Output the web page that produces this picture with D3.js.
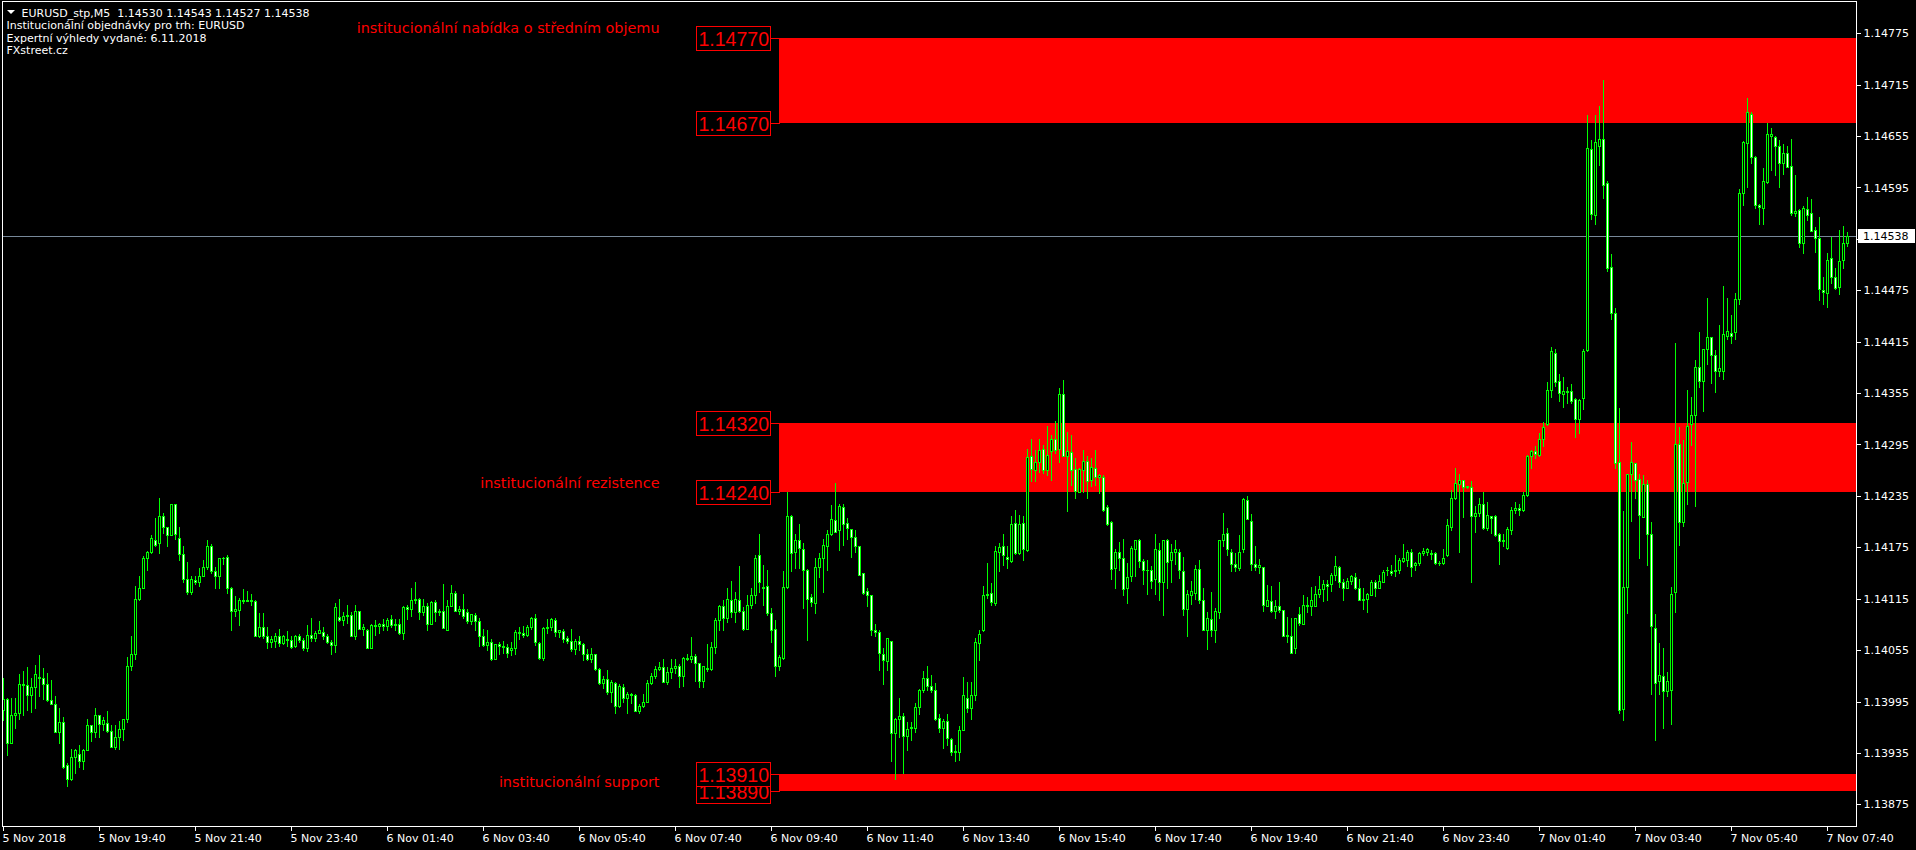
<!DOCTYPE html>
<html><head><meta charset="utf-8">
<script src="https://cdn.jsdelivr.net/npm/d3@7"></script>
<style>html,body{margin:0;padding:0;background:#000;overflow:hidden}</style>
</head><body>
<svg id="chart" width="1916" height="850"></svg>
<script>
// ---- DATA (EURUSD M5, bars from 5 Nov 2018 17:40) ----
const open = [
1.13985,1.13998,1.13947,1.13979,1.13982,1.14016,1.14014,1.14003,1.14012,1.14024,
1.14022,1.14015,1.13997,1.13992,1.13959,1.13971,1.13921,1.13904,1.13930,1.13934,
1.13926,1.13938,1.13968,1.13960,1.13979,1.13969,1.13970,1.13961,1.13942,1.13954,
1.13963,1.13975,1.14037,1.14050,1.14115,1.14128,1.14163,1.14170,1.14184,1.14180,
1.14212,1.14199,1.14189,1.14226,1.14186,1.14167,1.14138,1.14123,1.14137,1.14135,
1.14142,1.14152,1.14176,1.14147,1.14142,1.14162,1.14164,1.14127,1.14101,1.14102,
1.14114,1.14112,1.14114,1.14112,1.14071,1.14082,1.14071,1.14065,1.14066,1.14072,
1.14063,1.14068,1.14067,1.14060,1.14072,1.14067,1.14058,1.14073,1.14069,1.14075,
1.14076,1.14072,1.14065,1.14061,1.14094,1.14090,1.14095,1.14096,1.14072,1.14101,
1.14080,1.14079,1.14057,1.14084,1.14083,1.14085,1.14083,1.14091,1.14084,1.14086,
1.14075,1.14105,1.14103,1.14114,1.14115,1.14100,1.14106,1.14086,1.14111,1.14100,
1.14101,1.14079,1.14106,1.14122,1.14101,1.14103,1.14099,1.14089,1.14096,1.14089,
1.14072,1.14061,1.14064,1.14045,1.14062,1.14060,1.14059,1.14055,1.14058,1.14076,
1.14075,1.14073,1.14082,1.14092,1.14063,1.14046,1.14081,1.14082,1.14090,1.14076,
1.14077,1.14069,1.14066,1.14056,1.14066,1.14062,1.14051,1.14045,1.14051,1.14033,
1.14017,1.14021,1.14006,1.14017,1.13990,1.14012,1.13999,1.14004,1.14003,1.13984,
1.13990,1.13995,1.14017,1.14025,1.14033,1.14035,1.14018,1.14029,1.14034,1.14036,
1.14025,1.14046,1.14045,1.14048,1.14040,1.14019,1.14034,1.14033,1.14059,1.14090,
1.14106,1.14093,1.14113,1.14100,1.14114,1.14101,1.14080,1.14108,1.14119,1.14166,
1.14129,1.14130,1.14098,1.14080,1.14036,1.14046,1.14129,1.14211,1.14170,1.14183,
1.14173,1.14149,1.14117,1.14110,1.14152,1.14162,1.14177,1.14190,1.14207,1.14195,
1.14222,1.14203,1.14196,1.14187,1.14177,1.14145,1.14124,1.14119,1.14078,1.14076,
1.14051,1.14042,1.14066,1.13958,1.13975,1.13978,1.13955,1.13964,1.13964,1.13989,
1.14008,1.14023,1.14013,1.14009,1.13976,1.13964,1.13972,1.13951,1.13936,1.13936,
1.13962,1.13999,1.13987,1.14003,1.14063,1.14078,1.14119,1.14122,1.14110,1.14170,
1.14176,1.14164,1.14159,1.14203,1.14168,1.14203,1.14172,1.14281,1.14265,1.14274,
1.14290,1.14265,1.14287,1.14302,1.14290,1.14354,1.14281,1.14286,1.14266,1.14240,
1.14265,1.14276,1.14253,1.14268,1.14257,1.14257,1.14222,1.14205,1.14151,1.14170,
1.14163,1.14128,1.14142,1.14173,1.14183,1.14159,1.14148,1.14149,1.14138,1.14172,
1.14135,1.14183,1.14160,1.14169,1.14169,1.14147,1.14103,1.14119,1.14122,1.14150,
1.14113,1.14079,1.14091,1.14078,1.14099,1.14183,1.14192,1.14169,1.14156,1.14151,
1.14173,1.14230,1.14206,1.14156,1.14152,1.14152,1.14107,1.14112,1.14101,1.14107,
1.14102,1.14072,1.14072,1.14057,1.14097,1.14086,1.14108,1.14107,1.14107,1.14121,
1.14126,1.14132,1.14132,1.14143,1.14152,1.14134,1.14128,1.14136,1.14140,1.14128,
1.14114,1.14115,1.14119,1.14134,1.14128,1.14135,1.14148,1.14147,1.14147,1.14149,
1.14159,1.14160,1.14169,1.14154,1.14157,1.14168,1.14169,1.14168,1.14168,1.14157,
1.14157,1.14166,1.14199,1.14233,1.14249,1.14254,1.14245,1.14245,1.14211,1.14215,
1.14226,1.14197,1.14211,1.14211,1.14190,1.14182,1.14174,1.14195,1.14219,1.14221,
1.14218,1.14236,1.14281,1.14287,1.14283,1.14302,1.14319,1.14359,1.14402,1.14369,
1.14354,1.14356,1.14358,1.14348,1.14325,1.14349,1.14405,1.14640,1.14563,1.14643,
1.14652,1.14600,1.14502,1.14449,1.14274,1.13986,1.14129,1.14260,1.14273,1.14255,
1.14210,1.14249,1.14190,1.14081,1.14019,1.14025,1.14007,1.14008,1.14123,1.14296,
1.14205,1.14251,1.14319,1.14330,1.14386,1.14369,1.14406,1.14420,1.14399,1.14381,
1.14381,1.14422,1.14425,1.14426,1.14465,1.14589,1.14647,1.14681,1.14631,1.14575,
1.14571,1.14601,1.14655,1.14654,1.14644,1.14624,1.14635,1.14620,1.14565,1.14569,
1.14530,1.14570,1.14565,1.14545,1.14536,1.14475,1.14472,1.14513,1.14490,1.14479,
1.14510,1.14530];
const high = [
1.14022,1.13999,1.13999,1.13999,1.14027,1.14031,1.14035,1.14022,1.14038,1.14049,
1.14034,1.14028,1.14020,1.14001,1.13988,1.13977,1.13923,1.13939,1.13940,1.13944,
1.13939,1.13975,1.13968,1.13987,1.13979,1.13977,1.13984,1.13968,1.13968,1.13972,
1.13975,1.14047,1.14071,1.14130,1.14142,1.14165,1.14171,1.14189,1.14209,1.14233,
1.14215,1.14199,1.14226,1.14226,1.14199,1.14176,1.14158,1.14141,1.14141,1.14151,
1.14160,1.14184,1.14179,1.14152,1.14162,1.14164,1.14166,1.14129,1.14118,1.14116,
1.14126,1.14124,1.14121,1.14113,1.14098,1.14098,1.14082,1.14072,1.14075,1.14080,
1.14073,1.14077,1.14071,1.14073,1.14074,1.14069,1.14084,1.14092,1.14077,1.14089,
1.14082,1.14074,1.14067,1.14110,1.14115,1.14099,1.14108,1.14100,1.14108,1.14101,
1.14085,1.14080,1.14085,1.14090,1.14087,1.14091,1.14092,1.14096,1.14091,1.14091,
1.14107,1.14108,1.14127,1.14134,1.14116,1.14115,1.14110,1.14112,1.14113,1.14103,
1.14132,1.14113,1.14131,1.14124,1.14106,1.14120,1.14103,1.14097,1.14098,1.14093,
1.14080,1.14078,1.14068,1.14062,1.14064,1.14066,1.14062,1.14064,1.14078,1.14082,
1.14083,1.14084,1.14094,1.14097,1.14064,1.14082,1.14091,1.14093,1.14092,1.14079,
1.14080,1.14071,1.14080,1.14068,1.14072,1.14063,1.14056,1.14057,1.14051,1.14034,
1.14025,1.14032,1.14020,1.14018,1.14015,1.14016,1.14006,1.14005,1.14004,1.13992,
1.14004,1.14020,1.14028,1.14037,1.14041,1.14045,1.14035,1.14045,1.14045,1.14039,
1.14047,1.14051,1.14070,1.14050,1.14040,1.14037,1.14062,1.14065,1.14093,1.14108,
1.14114,1.14127,1.14136,1.14123,1.14153,1.14105,1.14119,1.14127,1.14166,1.14190,
1.14154,1.14148,1.14104,1.14090,1.14049,1.14147,1.14240,1.14213,1.14190,1.14202,
1.14180,1.14150,1.14121,1.14163,1.14168,1.14185,1.14195,1.14224,1.14250,1.14226,
1.14226,1.14209,1.14196,1.14195,1.14177,1.14145,1.14127,1.14119,1.14086,1.14078,
1.14057,1.14069,1.14066,1.13976,1.13999,1.13982,1.13971,1.13971,1.13993,1.14010,
1.14031,1.14036,1.14026,1.14017,1.13981,1.13975,1.13981,1.13952,1.13944,1.13967,
1.14024,1.14018,1.14018,1.14069,1.14078,1.14130,1.14157,1.14133,1.14176,1.14180,
1.14190,1.14177,1.14211,1.14218,1.14213,1.14211,1.14290,1.14302,1.14289,1.14301,
1.14294,1.14317,1.14306,1.14322,1.14361,1.14370,1.14310,1.14306,1.14279,1.14267,
1.14288,1.14281,1.14279,1.14288,1.14261,1.14259,1.14224,1.14206,1.14173,1.14181,
1.14185,1.14157,1.14177,1.14183,1.14185,1.14161,1.14160,1.14153,1.14191,1.14180,
1.14184,1.14185,1.14179,1.14184,1.14173,1.14164,1.14125,1.14136,1.14154,1.14160,
1.14127,1.14099,1.14123,1.14104,1.14184,1.14215,1.14197,1.14173,1.14168,1.14189,
1.14233,1.14235,1.14214,1.14176,1.14161,1.14152,1.14131,1.14130,1.14113,1.14135,
1.14102,1.14094,1.14093,1.14093,1.14105,1.14119,1.14117,1.14129,1.14130,1.14141,
1.14137,1.14137,1.14145,1.14165,1.14153,1.14138,1.14139,1.14143,1.14145,1.14138,
1.14127,1.14122,1.14137,1.14137,1.14143,1.14148,1.14152,1.14154,1.14166,1.14163,
1.14179,1.14172,1.14173,1.14158,1.14169,1.14174,1.14174,1.14172,1.14169,1.14159,
1.14173,1.14208,1.14242,1.14268,1.14261,1.14254,1.14247,1.14252,1.14223,1.14232,
1.14240,1.14228,1.14212,1.14213,1.14192,1.14191,1.14199,1.14222,1.14228,1.14226,
1.14240,1.14283,1.14288,1.14293,1.14309,1.14321,1.14368,1.14409,1.14406,1.14377,
1.14374,1.14362,1.14366,1.14349,1.14348,1.14406,1.14680,1.14650,1.14680,1.14690,
1.14720,1.14602,1.14517,1.14454,1.14338,1.14217,1.14260,1.14298,1.14273,1.14260,
1.14259,1.14254,1.14205,1.14097,1.14063,1.14057,1.14030,1.14129,1.14413,1.14315,
1.14300,1.14359,1.14350,1.14394,1.14426,1.14406,1.14466,1.14420,1.14405,1.14434,
1.14480,1.14466,1.14446,1.14472,1.14593,1.14649,1.14700,1.14683,1.14632,1.14576,
1.14618,1.14670,1.14665,1.14655,1.14651,1.14646,1.14643,1.14652,1.14610,1.14570,
1.14573,1.14584,1.14582,1.14549,1.14560,1.14490,1.14518,1.14537,1.14501,1.14545,
1.14550,1.14543];
const low = [
1.13973,1.13933,1.13947,1.13964,1.13975,1.13979,1.13985,1.13983,1.13988,1.14001,
1.13998,1.13996,1.13992,1.13959,1.13947,1.13917,1.13896,1.13903,1.13912,1.13919,
1.13916,1.13938,1.13949,1.13954,1.13954,1.13962,1.13960,1.13942,1.13940,1.13939,
1.13950,1.13971,1.14032,1.14045,1.14114,1.14128,1.14149,1.14168,1.14176,1.14168,
1.14192,1.14176,1.14189,1.14185,1.14160,1.14135,1.14121,1.14121,1.14132,1.14130,
1.14142,1.14150,1.14145,1.14127,1.14127,1.14156,1.14122,1.14078,1.14095,1.14084,
1.14110,1.14112,1.14108,1.14071,1.14070,1.14069,1.14058,1.14059,1.14059,1.14060,
1.14062,1.14060,1.14058,1.14059,1.14064,1.14055,1.14054,1.14066,1.14066,1.14075,
1.14068,1.14063,1.14051,1.14053,1.14089,1.14084,1.14087,1.14071,1.14068,1.14080,
1.14073,1.14057,1.14057,1.14073,1.14075,1.14078,1.14078,1.14082,1.14079,1.14074,
1.14068,1.14091,1.14095,1.14110,1.14091,1.14096,1.14078,1.14085,1.14089,1.14096,
1.14081,1.14078,1.14106,1.14101,1.14097,1.14093,1.14087,1.14086,1.14078,1.14060,
1.14060,1.14055,1.14043,1.14045,1.14050,1.14052,1.14047,1.14049,1.14050,1.14068,
1.14070,1.14071,1.14080,1.14061,1.14045,1.14043,1.14075,1.14078,1.14071,1.14070,
1.14065,1.14063,1.14054,1.14051,1.14055,1.14043,1.14043,1.14041,1.14032,1.14016,
1.14011,1.14004,1.13995,1.13982,1.13989,1.13994,1.13982,1.13993,1.13984,1.13982,
1.13989,1.13994,1.14016,1.14023,1.14032,1.14018,1.14015,1.14023,1.14028,1.14012,
1.14013,1.14043,1.14041,1.14019,1.14012,1.14012,1.14031,1.14032,1.14052,1.14078,
1.14078,1.14088,1.14094,1.14088,1.14100,1.14078,1.14080,1.14104,1.14110,1.14123,
1.14108,1.14096,1.14065,1.14025,1.14032,1.14045,1.14127,1.14147,1.14151,1.14151,
1.14104,1.14067,1.14107,1.14098,1.14140,1.14123,1.14148,1.14189,1.14193,1.14172,
1.14178,1.14185,1.14164,1.14170,1.14143,1.14121,1.14106,1.14073,1.14071,1.14032,
1.14016,1.14032,1.13926,1.13905,1.13954,1.13912,1.13938,1.13950,1.13960,1.13981,
1.14006,1.14008,1.14006,1.13974,1.13960,1.13941,1.13944,1.13932,1.13926,1.13927,
1.13962,1.13983,1.13975,1.13997,1.14043,1.14077,1.14116,1.14108,1.14108,1.14147,
1.14154,1.14151,1.14158,1.14167,1.14167,1.14160,1.14171,1.14252,1.14252,1.14263,
1.14262,1.14259,1.14253,1.14285,1.14275,1.14281,1.14217,1.14248,1.14233,1.14239,
1.14240,1.14233,1.14246,1.14248,1.14238,1.14217,1.14201,1.14138,1.14128,1.14148,
1.14119,1.14110,1.14136,1.14141,1.14152,1.14132,1.14121,1.14127,1.14121,1.14113,
1.14096,1.14128,1.14134,1.14156,1.14139,1.14096,1.14071,1.14109,1.14115,1.14110,
1.14078,1.14056,1.14071,1.14065,1.14093,1.14176,1.14166,1.14147,1.14147,1.14149,
1.14169,1.14208,1.14149,1.14148,1.14145,1.14101,1.14106,1.14100,1.14092,1.14100,
1.14071,1.14065,1.14052,1.14052,1.14084,1.14085,1.14100,1.14096,1.14106,1.14117,
1.14112,1.14113,1.14124,1.14137,1.14129,1.14114,1.14127,1.14132,1.14126,1.14113,
1.14103,1.14100,1.14119,1.14118,1.14127,1.14134,1.14143,1.14143,1.14141,1.14145,
1.14158,1.14153,1.14141,1.14148,1.14154,1.14166,1.14166,1.14161,1.14156,1.14154,
1.14156,1.14165,1.14195,1.14231,1.14169,1.14210,1.14244,1.14134,1.14193,1.14211,
1.14196,1.14195,1.14192,1.14188,1.14156,1.14176,1.14173,1.14191,1.14215,1.14213,
1.14217,1.14235,1.14267,1.14279,1.14282,1.14293,1.14318,1.14350,1.14363,1.14346,
1.14339,1.14344,1.14343,1.14304,1.14308,1.14336,1.14404,1.14558,1.14552,1.14621,
1.14583,1.14497,1.14441,1.14268,1.13982,1.13974,1.14098,1.14206,1.14233,1.14163,
1.14210,1.14154,1.14004,1.13950,1.14004,1.13964,1.14002,1.13969,1.14099,1.14178,
1.14200,1.14225,1.14294,1.14223,1.14362,1.14334,1.14389,1.14367,1.14356,1.14375,
1.14372,1.14418,1.14414,1.14418,1.14459,1.14575,1.14596,1.14624,1.14571,1.14552,
1.14552,1.14600,1.14615,1.14609,1.14595,1.14611,1.14619,1.14563,1.14562,1.14526,
1.14518,1.14557,1.14544,1.14520,1.14464,1.14459,1.14455,1.14484,1.14477,1.14471,
1.14501,1.14527];
const close = [
1.13998,1.13947,1.13979,1.13982,1.14016,1.14014,1.14003,1.14012,1.14027,1.14022,
1.14015,1.13997,1.13992,1.13959,1.13971,1.13918,1.13904,1.13930,1.13938,1.13926,
1.13938,1.13968,1.13960,1.13979,1.13969,1.13973,1.13961,1.13942,1.13954,1.13963,
1.13975,1.14037,1.14050,1.14115,1.14128,1.14163,1.14170,1.14186,1.14178,1.14212,
1.14199,1.14189,1.14226,1.14190,1.14167,1.14138,1.14123,1.14138,1.14135,1.14142,
1.14152,1.14176,1.14147,1.14142,1.14162,1.14162,1.14127,1.14101,1.14103,1.14113,
1.14112,1.14114,1.14112,1.14071,1.14082,1.14071,1.14065,1.14068,1.14072,1.14063,
1.14072,1.14067,1.14059,1.14072,1.14067,1.14058,1.14073,1.14069,1.14075,1.14078,
1.14072,1.14065,1.14061,1.14105,1.14090,1.14095,1.14096,1.14072,1.14101,1.14080,
1.14082,1.14057,1.14084,1.14083,1.14085,1.14083,1.14090,1.14084,1.14086,1.14075,
1.14105,1.14103,1.14114,1.14115,1.14100,1.14106,1.14086,1.14111,1.14100,1.14101,
1.14081,1.14106,1.14122,1.14101,1.14103,1.14095,1.14089,1.14097,1.14089,1.14072,
1.14061,1.14064,1.14045,1.14062,1.14060,1.14059,1.14052,1.14058,1.14076,1.14075,
1.14073,1.14082,1.14092,1.14064,1.14046,1.14081,1.14082,1.14091,1.14076,1.14078,
1.14068,1.14066,1.14056,1.14066,1.14062,1.14051,1.14045,1.14051,1.14033,1.14017,
1.14021,1.14006,1.14018,1.13990,1.14013,1.13999,1.14004,1.14003,1.13984,1.13990,
1.13995,1.14017,1.14025,1.14033,1.14035,1.14018,1.14029,1.14034,1.14036,1.14025,
1.14046,1.14045,1.14048,1.14040,1.14019,1.14036,1.14033,1.14059,1.14090,1.14107,
1.14093,1.14115,1.14100,1.14115,1.14101,1.14080,1.14108,1.14119,1.14163,1.14134,
1.14128,1.14098,1.14078,1.14036,1.14047,1.14129,1.14211,1.14168,1.14183,1.14174,
1.14149,1.14115,1.14111,1.14152,1.14163,1.14178,1.14191,1.14208,1.14193,1.14223,
1.14202,1.14197,1.14187,1.14176,1.14143,1.14122,1.14119,1.14079,1.14076,1.14052,
1.14043,1.14069,1.13958,1.13975,1.13978,1.13955,1.13963,1.13965,1.13989,1.14008,
1.14023,1.14013,1.14008,1.13975,1.13964,1.13972,1.13952,1.13936,1.13937,1.13962,
1.14003,1.13988,1.14003,1.14065,1.14074,1.14119,1.14121,1.14111,1.14171,1.14175,
1.14166,1.14161,1.14202,1.14168,1.14202,1.14173,1.14280,1.14266,1.14274,1.14289,
1.14265,1.14283,1.14302,1.14289,1.14354,1.14281,1.14287,1.14265,1.14241,1.14266,
1.14276,1.14252,1.14269,1.14257,1.14259,1.14218,1.14202,1.14150,1.14170,1.14163,
1.14126,1.14140,1.14174,1.14183,1.14159,1.14148,1.14149,1.14136,1.14173,1.14135,
1.14183,1.14158,1.14170,1.14173,1.14148,1.14103,1.14120,1.14124,1.14150,1.14113,
1.14079,1.14092,1.14078,1.14101,1.14183,1.14191,1.14173,1.14156,1.14152,1.14170,
1.14231,1.14208,1.14156,1.14152,1.14154,1.14108,1.14113,1.14101,1.14107,1.14102,
1.14072,1.14073,1.14052,1.14093,1.14087,1.14108,1.14106,1.14113,1.14121,1.14126,
1.14132,1.14130,1.14143,1.14153,1.14134,1.14127,1.14136,1.14141,1.14128,1.14114,
1.14115,1.14120,1.14134,1.14128,1.14136,1.14146,1.14149,1.14145,1.14149,1.14160,
1.14163,1.14169,1.14152,1.14157,1.14168,1.14171,1.14173,1.14167,1.14157,1.14157,
1.14163,1.14201,1.14233,1.14250,1.14254,1.14245,1.14247,1.14211,1.14215,1.14226,
1.14197,1.14213,1.14209,1.14189,1.14182,1.14184,1.14196,1.14219,1.14221,1.14219,
1.14236,1.14282,1.14287,1.14284,1.14302,1.14316,1.14359,1.14404,1.14368,1.14355,
1.14357,1.14358,1.14346,1.14325,1.14347,1.14404,1.14641,1.14564,1.14648,1.14652,
1.14598,1.14501,1.14448,1.14273,1.13985,1.14129,1.14260,1.14274,1.14253,1.14213,
1.14249,1.14190,1.14083,1.14017,1.14026,1.14007,1.14019,1.14121,1.14296,1.14204,
1.14250,1.14317,1.14329,1.14385,1.14369,1.14406,1.14420,1.14399,1.14381,1.14384,
1.14424,1.14427,1.14422,1.14465,1.14589,1.14648,1.14683,1.14630,1.14575,1.14572,
1.14602,1.14657,1.14658,1.14643,1.14624,1.14635,1.14619,1.14565,1.14568,1.14530,
1.14571,1.14563,1.14544,1.14536,1.14476,1.14473,1.14510,1.14490,1.14478,1.14509,
1.14530,1.14538];

const xTickLabels = ["5 Nov 2018","5 Nov 19:40","5 Nov 21:40","5 Nov 23:40","6 Nov 01:40","6 Nov 03:40",
  "6 Nov 05:40","6 Nov 07:40","6 Nov 09:40","6 Nov 11:40","6 Nov 13:40","6 Nov 15:40","6 Nov 17:40",
  "6 Nov 19:40","6 Nov 21:40","6 Nov 23:40","7 Nov 01:40","7 Nov 03:40","7 Nov 05:40","7 Nov 07:40"];
const barsPerTick = 24;
const yTicks = [1.14775,1.14715,1.14655,1.14595,1.14535,1.14475,1.14415,1.14355,1.14295,1.14235,
  1.14175,1.14115,1.14055,1.13995,1.13935,1.13875];
const zoneHigh = [1.14770, 1.14320, 1.13910];
const zoneLow  = [1.14670, 1.14240, 1.13890];
const zoneNames = ["institucionální nabídka o středním objemu","institucionální rezistence","institucionální support"];
const zoneStartBar = 194;
const bidPrice = 1.14538;
const symbolTitle = "EURUSD_stp,M5";
const infoLines = ["Institucionální objednávky pro trh: EURUSD","Expertní výhledy vydané: 6.11.2018","FXstreet.cz"];

// ---- CHART ----
const W = 1916, H = 850;
const n = Math.min(open.length, high.length, low.length, close.length);
const svg = d3.select('#chart');
svg.append('rect').attr('width', W).attr('height', H).attr('fill', '#000');
const x = d3.scaleLinear().domain([-0.875, 463.125]).range([0, 1856]);
const y = d3.scaleLinear().domain([1.138497, 1.148115]).range([826, 2]);
const fmt = d3.format('.5f');
const R = Math.round;
const GREEN = '#00ff00', RED = '#ff0000';

// zones
const zx0 = x(zoneStartBar), zx1 = x(463.125);
const gz = svg.append('g').attr('shape-rendering', 'crispEdges');
gz.selectAll('rect').data(zoneHigh).join('rect')
  .attr('x', zx0 - 0.5).attr('width', zx1 - zx0 + 0.5)
  .attr('y', d => R(y(d)))
  .attr('height', (d, k) => R(y(zoneLow[k])) - R(y(d)))
  .attr('fill', RED);

// bid line
svg.append('line').attr('x1', 2).attr('x2', 1856)
  .attr('y1', R(y(bidPrice)) + 0.5).attr('y2', R(y(bidPrice)) + 0.5)
  .attr('stroke', '#778899').attr('stroke-width', 1);

// candles
const idx = d3.range(n);
const cx = i => Math.floor(x(i)) + 0.5;
const gc = svg.append('g').attr('shape-rendering', 'crispEdges');
gc.selectAll('rect.wick').data(idx).join('rect').attr('class', 'wick')
  .attr('x', i => cx(i) - 0.5).attr('width', 1)
  .attr('y', i => R(y(high[i])))
  .attr('height', i => R(y(low[i])) - R(y(high[i])) + 1)
  .attr('fill', GREEN);
gc.selectAll('rect.body').data(idx).join('rect').attr('class', 'body')
  .attr('x', i => cx(i) - 1.5).attr('width', 3)
  .attr('y', i => R(y(Math.max(open[i], close[i]))))
  .attr('height', i => R(y(Math.min(open[i], close[i]))) - R(y(Math.max(open[i], close[i]))) + 1)
  .attr('fill', GREEN);
gc.selectAll('rect.fill').data(idx.filter(i => R(y(Math.min(open[i], close[i]))) - R(y(Math.max(open[i], close[i]))) >= 2))
  .join('rect').attr('class', 'fill')
  .attr('x', i => cx(i) - 0.5).attr('width', 1)
  .attr('y', i => R(y(Math.max(open[i], close[i]))) + 1)
  .attr('height', i => R(y(Math.min(open[i], close[i]))) - R(y(Math.max(open[i], close[i]))) - 1)
  .attr('fill', i => close[i] >= open[i] ? '#000' : '#fff');

// zone price labels and zone titles
const gl = svg.append('g');
const labelRight = zx0 - 10;
zoneHigh.forEach((hi, k) => {
  [zoneLow[k], hi].forEach(p => {
    const py = y(p);
    gl.append('line').attr('x1', labelRight).attr('x2', zx0).attr('y1', R(py) + 0.5).attr('y2', R(py) + 0.5)
      .attr('stroke', RED).attr('shape-rendering', 'crispEdges');
    gl.append('rect').attr('x', labelRight - 74 + 0.5).attr('y', R(py) - 12 + 0.5).attr('width', 74).attr('height', 24)
      .attr('fill', '#000').attr('stroke', RED).attr('shape-rendering', 'crispEdges');
    gl.append('text').attr('x', labelRight - 71).attr('y', py + 8).text(fmt(p))
      .attr('fill', RED).attr('font-family', 'Liberation Sans, Arial, sans-serif').attr('font-size', 19.5);
  });
});
const titleY = [y(zoneHigh[0]) - 4.5, y(zoneLow[1]) - 4, y(zoneLow[2]) - 4.5];
zoneNames.forEach((t, k) => {
  gl.append('text').attr('x', labelRight - 110).attr('y', titleY[k]).attr('text-anchor', 'end').text(t)
    .attr('fill', RED).attr('font-family', 'DejaVu Sans, sans-serif').attr('font-size', 14.4);
});

// frame
svg.append('rect').attr('x', 2.5).attr('y', 1.5).attr('width', 1854).attr('height', 825)
  .attr('fill', 'none').attr('stroke', '#fff').attr('shape-rendering', 'crispEdges');

// y axis
const yAxis = d3.axisRight(y).tickValues(yTicks).tickFormat(fmt).tickSize(4).tickPadding(3).tickSizeOuter(0);
svg.append('g').attr('transform', 'translate(1856.5,0)').call(yAxis)
  .attr('font-family', 'DejaVu Sans, sans-serif').attr('font-size', 11)
  .call(g => g.select('.domain').remove())
  .call(g => g.selectAll('line').attr('stroke', '#fff').attr('shape-rendering', 'crispEdges'))
  .call(g => g.selectAll('text').attr('fill', '#fff'));

// bid label
const by = R(y(bidPrice));
svg.append('rect').attr('x', 1858).attr('y', by - 7).attr('width', 57).attr('height', 14).attr('fill', '#fff');
svg.append('text').attr('x', 1863).attr('y', by + 4).text(fmt(bidPrice)).attr('fill', '#000')
  .attr('font-family', 'DejaVu Sans, sans-serif').attr('font-size', 11);

// x axis
const xTickIdx = xTickLabels.map((_, k) => k * barsPerTick);
const xAxis = d3.axisBottom(x).tickValues(xTickIdx).tickFormat((d, k) => xTickLabels[k]).tickSize(4).tickPadding(4).tickSizeOuter(0).offset(0);
svg.append('g').attr('transform', 'translate(0,826.5)').call(xAxis)
  .attr('font-family', 'DejaVu Sans, sans-serif').attr('font-size', 11)
  .call(g => g.select('.domain').remove())
  .call(g => g.selectAll('line').attr('stroke', '#fff').attr('shape-rendering', 'crispEdges'))
  .call(g => g.selectAll('text').attr('fill', '#fff').attr('text-anchor', 'start').attr('dx', -1));

// header
const gh = svg.append('g').attr('font-family', 'DejaVu Sans, sans-serif').attr('font-size', 11).attr('fill', '#fff');
gh.append('path').attr('d', 'M7,10 L15,10 L11,14 Z').attr('fill', '#fff');
gh.append('text').attr('x', 21.5).attr('y', 16.5).style('white-space', 'pre')
  .text(`${symbolTitle}  ${fmt(open[n-1])} ${fmt(high[n-1])} ${fmt(low[n-1])} ${fmt(close[n-1])}`);
infoLines.forEach((t, k) => gh.append('text').attr('x', 6.5).attr('y', 29.3 + k * 12.4).text(t));
</script>
</body></html>
